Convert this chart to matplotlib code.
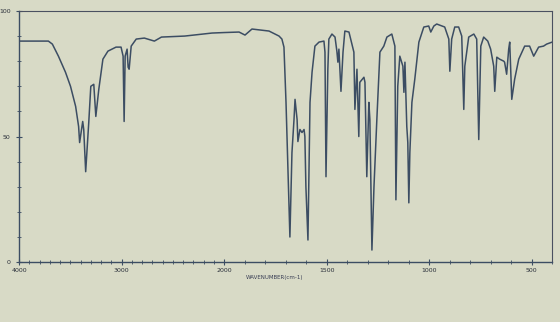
import numpy as np
import matplotlib
matplotlib.use("Agg")
import matplotlib.pyplot as plt
from matplotlib.ticker import FixedLocator, MultipleLocator

# IR spectrum: wavenumber (cm-1) and % transmittance
wavenumber = [
    4000, 3714, 3675, 3616, 3547, 3498, 3448, 3419, 3409, 3379, 3369, 3350,
    3320, 3300, 3271, 3251, 3222, 3182, 3133, 3054, 3005, 2985, 2975, 2965,
    2946, 2936, 2926, 2906, 2857, 2778, 2680, 2611, 2384, 2118, 2000, 1927,
    1898, 1864, 1781, 1732, 1718, 1708, 1698, 1684, 1679, 1669, 1659, 1654,
    1644, 1640, 1630, 1620, 1610, 1606, 1601, 1591, 1586, 1581, 1571, 1557,
    1537, 1513, 1508, 1503, 1494, 1489, 1474, 1459, 1450, 1445, 1440, 1430,
    1420, 1411, 1391, 1367, 1362, 1352, 1343, 1338, 1318, 1313, 1304, 1294,
    1289, 1279, 1269, 1255, 1240, 1221, 1206, 1182, 1167, 1162, 1153, 1143,
    1128, 1123, 1118, 1109, 1104, 1099, 1094, 1084, 1070, 1050, 1026, 1002,
    992, 977, 963, 924, 904, 899, 890, 875, 856, 841, 831, 826, 807, 782,
    768, 758, 748, 734, 714, 700, 685, 680, 670, 656, 636, 632, 622, 612,
    607, 597, 583, 563, 534, 510, 490, 466, 442, 427, 400,
]
transmittance = [
    88.0, 88.0, 86.8, 82.0, 75.6, 70.0, 62.0, 54.0, 47.6, 56.0, 52.8, 36.0,
    55.6, 70.0, 70.8, 58.0, 68.8, 80.8, 84.0, 85.6, 85.6, 82.0, 56.0, 82.0,
    84.8, 77.6, 76.8, 86.0, 88.8, 89.2, 88.0, 89.6, 90.0, 91.2, 91.4, 91.6,
    90.4, 92.8, 92.0, 90.0, 88.8, 85.6, 63.6, 23.6, 10.0, 43.6, 56.8, 64.8,
    56.8, 48.0, 52.8, 51.6, 52.8, 50.0, 30.0, 8.8, 36.8, 63.6, 75.6, 86.0,
    87.6, 88.0, 83.6, 34.0, 76.8, 88.8, 90.8, 89.6, 84.0, 79.6, 84.8, 68.0,
    83.6, 92.0, 91.6, 83.6, 60.8, 76.8, 50.0, 71.6, 73.6, 71.6, 34.0, 63.6,
    56.8, 4.8, 30.0, 56.8, 83.6, 86.0, 89.6, 90.8, 86.0, 24.8, 70.0, 82.0,
    78.0, 67.6, 79.6, 54.0, 47.6, 23.6, 43.6, 63.6, 72.8, 87.6, 93.6, 94.0,
    91.6, 94.0, 94.8, 93.6, 88.8, 76.0, 88.8, 93.6, 93.6, 90.0, 60.8, 78.0,
    89.6, 90.8, 88.8, 48.8, 86.0, 89.6, 88.0, 84.8, 78.0, 68.0, 81.6, 80.8,
    80.0, 79.6, 74.8, 84.8, 87.6, 64.8, 72.8, 80.8, 86.0, 86.0, 82.0, 85.6,
    86.0, 86.8, 87.6,
]

x_ticks = [4000, 3000, 2000, 1500, 1000, 500]
x_tick_labels = ["4000", "3000", "2000", "1500", "1000", "500"]
y_ticks = [0, 50, 100]
y_tick_labels = ["0", "50", "100"]


# the chart paper halves the scale above 2000 cm-1
def fwd(w):
    w = np.asarray(w, dtype=float)
    return np.where(w > 2000, 2000 + (w - 2000) * 0.5, w)


def inv(u):
    u = np.asarray(u, dtype=float)
    return np.where(u > 2000, 2000 + (u - 2000) * 2.0, u)


bg = "#d8dac6"
ink = "#3c4d63"

fig = plt.figure(figsize=(5.6, 3.22), dpi=100, facecolor=bg)
ax = fig.add_axes([0.034, 0.186, 0.952, 0.780], facecolor=bg)

ax.set_xscale("function", functions=(fwd, inv))
ax.plot(wavenumber, transmittance, color=ink, lw=1.1)
ax.set_xlim(4000, 400)
ax.set_ylim(0, 100)

ax.xaxis.set_major_locator(FixedLocator(x_ticks))
ax.set_xticklabels(x_tick_labels)
ax.xaxis.set_minor_locator(MultipleLocator(100))
ax.yaxis.set_major_locator(FixedLocator(y_ticks))
ax.set_yticklabels(y_tick_labels)
ax.yaxis.set_minor_locator(MultipleLocator(10))

ax.tick_params(which="both", direction="inout", color=ink, labelsize=4.5,
               labelcolor="#2a2f3a")
ax.tick_params(which="major", length=4, width=0.8)
ax.tick_params(which="minor", length=2.5, width=0.6)
ax.tick_params(axis="x", pad=2)
ax.tick_params(axis="y", pad=4)

for side in ["left", "bottom"]:
    ax.spines[side].set_color(ink)
    ax.spines[side].set_linewidth(1.0)
for side in ["top", "right"]:
    ax.spines[side].set_color("#4a5060")
    ax.spines[side].set_linewidth(0.8)

fig.text(0.49, 0.137, "WAVENUMBER(cm-1)", fontsize=4, color="#3a3f55",
         ha="center", va="center")

fig.savefig("out.png", dpi=100, facecolor=bg)
